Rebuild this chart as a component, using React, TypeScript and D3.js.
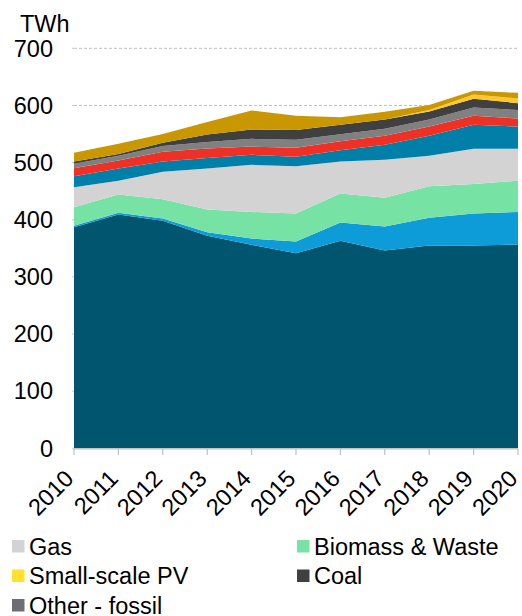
import React from "react";
import * as d3 from "d3";

const years = [2010, 2011, 2012, 2013, 2014, 2015, 2016, 2017, 2018, 2019, 2020];
const nuclear = [387, 409, 398, 372, 356, 341.5, 363, 346, 355, 355, 356.7];
const wind = [2.5, 3, 4, 6, 11, 20.5, 32, 42, 48.5, 56, 56.8];
const biomassWaste = [32.5, 32, 34, 40, 46.5, 49, 51, 50.6, 55, 51.6, 54.9];
const gas = [35, 24, 48, 71.5, 82.5, 82.6, 56, 66.4, 53.5, 61.4, 55.6];
const hydro = [19, 21.5, 18, 18.5, 17.5, 16.4, 19.6, 26, 35, 42, 39];
const solar = [14, 14, 17, 16.6, 14.5, 16, 15.8, 16, 16, 16, 14];
const otherFossil = [8, 8.5, 10, 11.4, 13.5, 14, 12.3, 12, 12.4, 14.5, 15];
const coal = [4, 3, 5.5, 13, 16.5, 17, 16.3, 16.4, 14.1, 15.2, 12];
const smallPV = [0, 0, 0, 0, 0, 0, 0, 0, 2.5, 7.6, 8.3];
const imports = [15, 18, 15.5, 22, 33, 25, 13.5, 13.6, 8.6, 6.4, 9.7];

const seriesKeys = ["Nuclear", "Wind", "Biomass & Waste", "Gas", "Hydro", "Solar", "Other - fossil", "Coal", "Small-scale PV", "Imports"];
const seriesValues = [nuclear, wind, biomassWaste, gas, hydro, solar, otherFossil, coal, smallPV, imports];
const seriesColors = ["#02556f", "#0e9cd9", "#76e2a4", "#d3d3d3", "#0080a8", "#ee3124", "#808080", "#404040", "#ffc72c", "#c99700"];

const yTicks = [0, 100, 200, 300, 400, 500, 600, 700];
const legendItems = ["Gas", "Biomass & Waste", "Small-scale PV", "Coal", "Other - fossil"];
const legendColors = ["#d3d3d3", "#76e2a4", "#ffe12e", "#404040", "#6d6e73"];

export default function App() {
  const W = 522;
  const H = 616;
  const x = d3.scaleLinear().domain([2010, 2020]).range([74, 518]);
  const y = d3.scaleLinear().domain([0, 700]).range([448.3, 48.3]);

  const table = years.map((yr, i) => {
    const row: any = { year: yr };
    seriesKeys.forEach((k, j) => (row[k] = seriesValues[j][i]));
    return row;
  });
  const stack = d3.stack<any>().keys(seriesKeys)(table);
  const area = d3
    .area<any>()
    .x((d) => x(d.data.year))
    .y0((d) => y(d[0]))
    .y1((d) => y(d[1]));

  const font = "'Liberation Sans', Arial, sans-serif";
  const fs = 23.5;

  return (
    <svg
      width={W}
      height={H}
      style={{ position: "absolute", left: 0, top: 0, background: "#fff" }}
      fontFamily={font}
    >
      {yTicks
        .filter((t) => t > 0)
        .map((t) => (
          <line
            key={"g" + t}
            x1={74}
            x2={518}
            y1={y(t)}
            y2={y(t)}
            stroke="#c0c0c0"
            strokeWidth={1}
            strokeDasharray="3,2"
          />
        ))}
      {yTicks.map((t) => (
        <line key={"lt" + t} x1={72} x2={74} y1={y(t)} y2={y(t)} stroke="#c8c8c8" />
      ))}
      {stack.map((s, i) => (
        <path key={s.key} d={area(s) || ""} fill={seriesColors[i]} />
      ))}
      <line x1={74} x2={518} y1={448.8} y2={448.8} stroke="#bfbfbf" strokeWidth={1.2} />
      {years.map((yr) => (
        <line key={"t" + yr} x1={x(yr)} x2={x(yr)} y1={448.8} y2={455} stroke="#bfbfbf" strokeWidth={1.2} />
      ))}
      {yTicks.map((t) => (
        <text
          key={"yl" + t}
          x={53}
          y={y(t)}
          dy="0.35em"
          textAnchor="end"
          fontSize={fs}
          fill="#000"
        >
          {t}
        </text>
      ))}
      <text x={20} y={32} fontSize={fs} fill="#000">
        TWh
      </text>
      {years.map((yr) => (
        <text
          key={"xl" + yr}
          transform={`translate(${x(yr) + 1},${480}) rotate(-45)`}
          textAnchor="end"
          fontSize={fs}
          fill="#000"
        >
          {yr}
        </text>
      ))}
      {legendItems.map((name, i) => {
        const col = i % 2;
        const row = Math.floor(i / 2);
        const lx = col === 0 ? 12 : 297;
        const cy = 546.5 + row * 29.5;
        return (
          <g key={name}>
            <rect x={lx} y={cy - 6.5} width={12.5} height={12.5} fill={legendColors[i]} />
            <text x={lx + 17} y={cy} dy="0.35em" fontSize={fs} fill="#000">
              {name}
            </text>
          </g>
        );
      })}
    </svg>
  );
}
